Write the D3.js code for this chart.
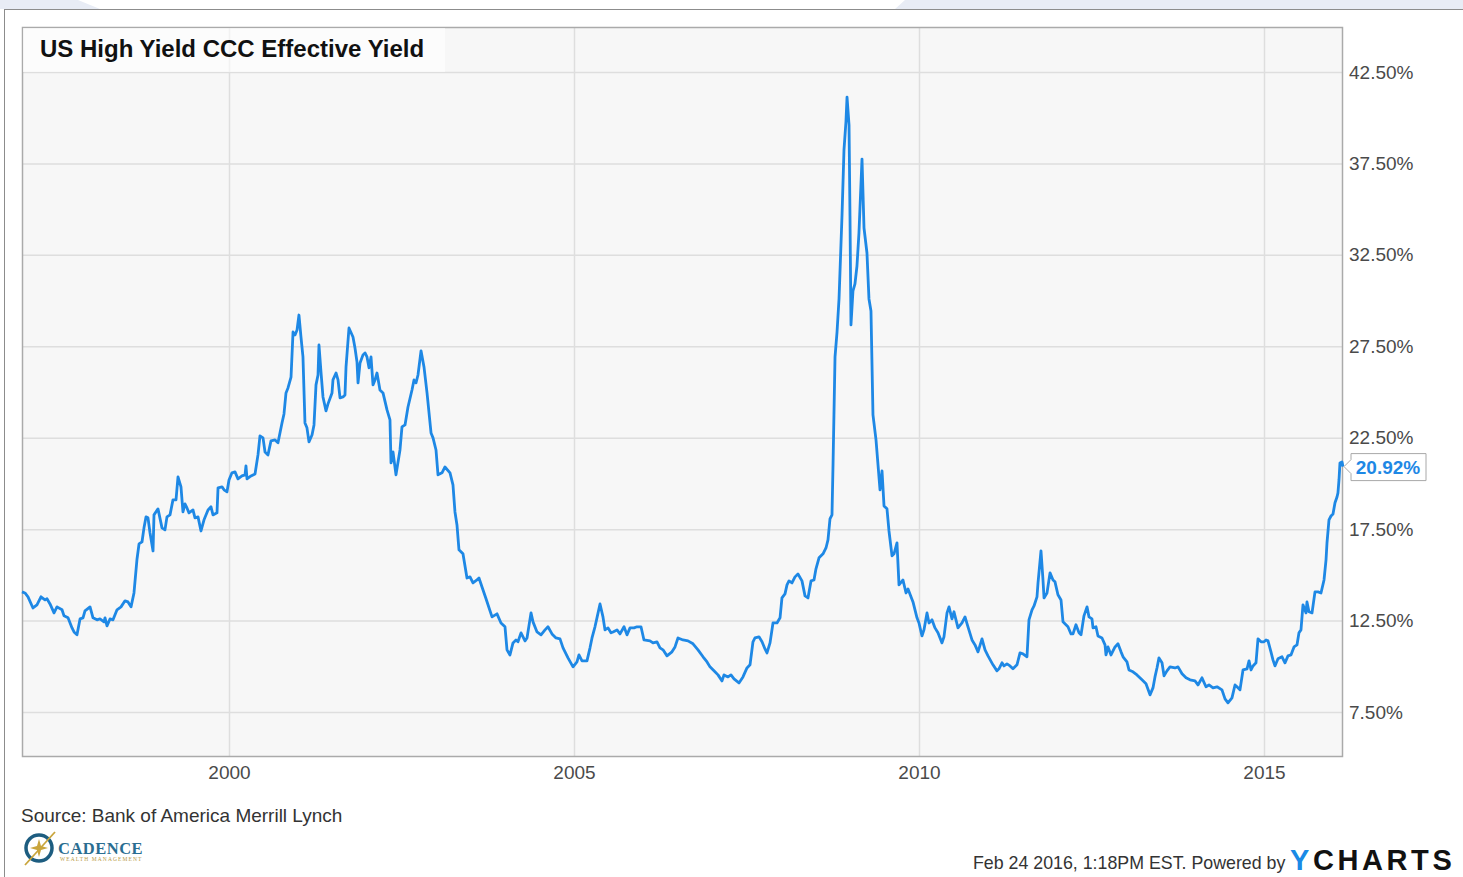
<!DOCTYPE html>
<html lang="en">

<head>
  <meta charset="UTF-8">
  <title>US High Yield CCC Effective Yield</title>
  <script src="https://cdnjs.cloudflare.com/ajax/libs/d3/7.8.5/d3.min.js"></script>
  <style>
    body {
      margin: 0;
      background: #fff;
      font-family: "Liberation Sans", Arial, sans-serif;
    }

    .grid line {
      stroke: #dedede;
      stroke-width: 1.5px;
    }

    .grid .domain {
      display: none;
    }

    .axis text {
      font-size: 19px;
      fill: #4a4a4a;
    }

    .axis .domain,
    .axis line {
      display: none;
    }
  </style>
</head>

<body>
  <div id="chart"></div>
  <script>
    // weekly-ish readings (decimal year, percent)
    const years = [
      1997.000, 1997.043, 1997.087, 1997.159, 1997.217, 1997.275, 1997.333, 1997.362, 1997.406, 1997.464,
      1997.507, 1997.580, 1997.609, 1997.667, 1997.725, 1997.754, 1997.797, 1997.841, 1997.884, 1997.913,
      1997.986, 1998.029, 1998.087, 1998.130, 1998.188, 1998.203, 1998.232, 1998.275, 1998.319, 1998.377,
      1998.435, 1998.493, 1998.536, 1998.580, 1998.623, 1998.667, 1998.696, 1998.739, 1998.768, 1998.797,
      1998.826, 1998.855, 1998.899, 1998.913, 1998.971, 1999.029, 1999.072, 1999.101, 1999.145, 1999.188,
      1999.232, 1999.261, 1999.304, 1999.333, 1999.362, 1999.391, 1999.420, 1999.478, 1999.507, 1999.551,
      1999.594, 1999.638, 1999.696, 1999.739, 1999.768, 1999.826, 1999.841, 1999.899, 1999.928, 1999.971,
      2000.000, 2000.043, 2000.087, 2000.130, 2000.188, 2000.232, 2000.246, 2000.261, 2000.319, 2000.377,
      2000.420, 2000.449, 2000.493, 2000.522, 2000.565, 2000.609, 2000.667, 2000.710, 2000.768, 2000.797,
      2000.826, 2000.855, 2000.899, 2000.928, 2000.957, 2000.986, 2001.014, 2001.043, 2001.072, 2001.101,
      2001.130, 2001.159, 2001.203, 2001.232, 2001.261, 2001.290, 2001.304, 2001.333, 2001.362, 2001.406,
      2001.435, 2001.493, 2001.507, 2001.551, 2001.580, 2001.609, 2001.652, 2001.681, 2001.696, 2001.739,
      2001.797, 2001.826, 2001.855, 2001.870, 2001.899, 2001.942, 2001.971, 2002.000, 2002.029, 2002.058,
      2002.087, 2002.116, 2002.145, 2002.188, 2002.232, 2002.290, 2002.333, 2002.348, 2002.377, 2002.420,
      2002.478, 2002.507, 2002.551, 2002.594, 2002.652, 2002.681, 2002.710, 2002.739, 2002.783, 2002.826,
      2002.870, 2002.928, 2002.957, 2003.000, 2003.029, 2003.087, 2003.130, 2003.203, 2003.246, 2003.275,
      2003.304, 2003.333, 2003.391, 2003.449, 2003.493, 2003.536, 2003.594, 2003.623, 2003.667, 2003.725,
      2003.812, 2003.884, 2003.942, 2004.000, 2004.029, 2004.072, 2004.116, 2004.159, 2004.188, 2004.232,
      2004.290, 2004.319, 2004.377, 2004.406, 2004.464, 2004.522, 2004.580, 2004.623, 2004.681, 2004.739,
      2004.797, 2004.841, 2004.913, 2004.986, 2005.043, 2005.072, 2005.116, 2005.188, 2005.232, 2005.261,
      2005.304, 2005.333, 2005.377, 2005.420, 2005.449, 2005.493, 2005.536, 2005.565, 2005.623, 2005.667,
      2005.725, 2005.768, 2005.812, 2005.870, 2005.913, 2005.971, 2006.014, 2006.101, 2006.145, 2006.203,
      2006.246, 2006.290, 2006.348, 2006.420, 2006.464, 2006.507, 2006.580, 2006.652, 2006.725, 2006.797,
      2006.870, 2006.928, 2006.971, 2007.043, 2007.087, 2007.145, 2007.174, 2007.232, 2007.275, 2007.319,
      2007.391, 2007.449, 2007.507, 2007.551, 2007.594, 2007.623, 2007.681, 2007.725, 2007.768, 2007.797,
      2007.841, 2007.884, 2007.942, 2007.986, 2008.014, 2008.058, 2008.087, 2008.116, 2008.159, 2008.203,
      2008.246, 2008.304, 2008.348, 2008.391, 2008.435, 2008.478, 2008.507, 2008.551, 2008.609, 2008.652,
      2008.681, 2008.710, 2008.739, 2008.754, 2008.783, 2008.812, 2008.841, 2008.884, 2008.913, 2008.942,
      2008.957, 2008.986, 2009.000, 2009.014, 2009.043, 2009.072, 2009.101, 2009.130, 2009.174, 2009.203,
      2009.246, 2009.275, 2009.304, 2009.333, 2009.377, 2009.406, 2009.435, 2009.464, 2009.493, 2009.536,
      2009.565, 2009.609, 2009.638, 2009.681, 2009.710, 2009.768, 2009.812, 2009.841, 2009.913, 2009.971,
      2010.000, 2010.043, 2010.072, 2010.116, 2010.145, 2010.188, 2010.232, 2010.275, 2010.333, 2010.362,
      2010.406, 2010.435, 2010.478, 2010.507, 2010.565, 2010.623, 2010.667, 2010.710, 2010.768, 2010.812,
      2010.855, 2010.913, 2010.957, 2011.000, 2011.072, 2011.130, 2011.159, 2011.203, 2011.232, 2011.275,
      2011.319, 2011.362, 2011.420, 2011.464, 2011.507, 2011.565, 2011.594, 2011.638, 2011.667, 2011.710,
      2011.725, 2011.768, 2011.797, 2011.812, 2011.855, 2011.899, 2011.942, 2011.971, 2012.014, 2012.058,
      2012.087, 2012.130, 2012.159, 2012.203, 2012.232, 2012.275, 2012.319, 2012.348, 2012.391, 2012.435,
      2012.464, 2012.507, 2012.522, 2012.565, 2012.594, 2012.652, 2012.696, 2012.710, 2012.739, 2012.783,
      2012.841, 2012.884, 2012.928, 2012.957, 2013.014, 2013.043, 2013.101, 2013.159, 2013.232, 2013.290,
      2013.348, 2013.391, 2013.420, 2013.449, 2013.478, 2013.522, 2013.551, 2013.594, 2013.638, 2013.710,
      2013.754, 2013.812, 2013.870, 2013.928, 2014.000, 2014.043, 2014.101, 2014.159, 2014.203, 2014.261,
      2014.319, 2014.391, 2014.435, 2014.478, 2014.536, 2014.580, 2014.609, 2014.652, 2014.696, 2014.754,
      2014.783, 2014.812, 2014.841, 2014.884, 2014.913, 2014.957, 2015.000, 2015.029, 2015.058, 2015.101,
      2015.130, 2015.159, 2015.203, 2015.261, 2015.304, 2015.348, 2015.391, 2015.435, 2015.478, 2015.507,
      2015.536, 2015.565, 2015.609, 2015.623, 2015.652, 2015.696, 2015.739, 2015.783, 2015.826, 2015.870,
      2015.899, 2015.913, 2015.942, 2015.971, 2016.000, 2016.029, 2016.058, 2016.072, 2016.087, 2016.101,
      2016.130, 2016.145
    ];

    const yields = [
      14.07, 14.01, 13.80, 13.19, 13.36, 13.80, 13.63, 13.69, 13.41, 12.92,
      13.25, 13.09, 12.76, 12.65, 12.10, 11.88, 11.72, 12.59, 12.65, 13.03,
      13.25, 12.65, 12.54, 12.59, 12.43, 12.65, 12.21, 12.59, 12.54, 13.09,
      13.25, 13.58, 13.52, 13.25, 14.01, 15.87, 16.69, 16.80, 17.57, 18.17,
      18.12, 17.30, 16.31, 18.28, 18.61, 17.57, 17.46, 18.17, 18.28, 19.10,
      19.10, 20.36, 19.81, 18.44, 18.88, 18.66, 18.39, 18.55, 18.12, 18.17,
      17.40, 18.01, 18.55, 18.72, 18.28, 18.39, 19.76, 19.81, 19.65, 19.54,
      20.19, 20.58, 20.63, 20.25, 20.41, 20.47, 20.96, 20.25, 20.41, 20.52,
      21.56, 22.60, 22.49, 21.72, 21.56, 22.33, 22.38, 22.22, 23.31, 23.80,
      24.95, 25.22, 25.82, 28.28, 28.12, 28.39, 29.21, 28.01, 26.92, 23.31,
      23.04, 22.27, 22.65, 23.20, 25.39, 25.93, 27.57, 26.10, 24.73, 23.97,
      24.35, 24.95, 25.66, 26.04, 25.66, 24.68, 24.73, 24.84, 26.37, 28.50,
      28.01, 27.41, 26.64, 25.50, 26.59, 27.03, 27.14, 26.92, 26.32, 26.92,
      25.39, 25.66, 26.04, 25.11, 24.95, 24.02, 23.47, 21.12, 21.72, 20.47,
      21.83, 23.09, 23.20, 24.18, 25.11, 25.66, 25.50, 25.93, 27.25, 26.37,
      24.95, 22.76, 22.49, 21.83, 20.47, 20.58, 20.90, 20.58, 19.92, 18.44,
      17.73, 16.37, 16.15, 14.83, 14.89, 14.56, 14.72, 14.83, 14.34, 13.69,
      12.70, 12.87, 12.37, 12.16, 10.90, 10.62, 11.28, 11.44, 11.34, 11.83,
      11.39, 11.55, 12.92, 12.43, 11.88, 11.72, 11.99, 12.16, 11.77, 11.55,
      11.50, 11.01, 10.46, 9.97, 10.24, 10.62, 10.30, 10.30, 11.01, 11.55,
      12.16, 12.65, 13.41, 12.70, 11.99, 12.10, 11.83, 11.88, 11.99, 11.77,
      12.16, 11.72, 12.10, 12.10, 12.16, 12.16, 11.44, 11.39, 11.28, 11.34,
      11.01, 10.90, 10.57, 10.79, 11.06, 11.55, 11.44, 11.39, 11.23, 10.90,
      10.52, 10.24, 9.97, 9.70, 9.53, 9.20, 9.53, 9.42, 9.53, 9.31,
      9.09, 9.42, 9.91, 10.08, 11.34, 11.55, 11.61, 11.34, 10.95, 10.73,
      11.28, 12.37, 12.37, 12.65, 13.74, 13.96, 14.45, 14.67, 14.56, 14.89,
      15.05, 14.67, 13.85, 13.74, 14.67, 14.72, 15.33, 15.93, 16.15, 16.47,
      16.91, 18.06, 18.28, 21.01, 26.92, 28.28, 30.09, 34.63, 38.24, 39.82,
      41.13, 39.60, 34.63, 28.67, 30.53, 30.91, 31.89, 33.70, 37.74, 33.97,
      32.60, 30.09, 29.43, 23.75, 22.38, 21.01, 19.65, 20.69, 18.77, 18.61,
      17.40, 16.04, 16.15, 16.75, 14.45, 14.72, 14.01, 14.23, 13.52, 12.65,
      12.37, 11.66, 11.99, 12.92, 12.37, 12.54, 12.10, 11.83, 11.28, 11.61,
      12.92, 13.25, 12.59, 12.98, 12.10, 12.37, 12.70, 12.16, 11.44, 11.17,
      10.79, 11.50, 10.90, 10.57, 10.08, 9.75, 9.86, 10.19, 10.02, 10.13,
      10.02, 9.86, 10.08, 10.73, 10.68, 10.52, 12.54, 13.09, 13.30, 13.80,
      14.56, 16.31, 14.72, 13.74, 14.01, 15.11, 14.72, 14.62, 13.91, 13.63,
      12.43, 12.27, 12.16, 11.77, 11.77, 12.27, 11.83, 11.72, 12.76, 13.25,
      12.70, 12.59, 12.10, 12.16, 11.66, 11.55, 11.17, 10.62, 11.06, 10.62,
      11.06, 11.23, 10.79, 10.52, 10.24, 9.80, 9.70, 9.53, 9.26, 9.04,
      8.44, 8.82, 9.42, 9.91, 10.46, 10.19, 9.48, 9.75, 9.97, 9.91,
      9.97, 9.59, 9.37, 9.26, 9.20, 8.98, 9.37, 8.88, 8.98, 8.82,
      8.88, 8.71, 8.22, 8.00, 8.27, 8.98, 8.88, 8.71, 9.80, 9.86,
      10.30, 9.80, 10.02, 10.19, 11.50, 11.34, 11.34, 11.44, 11.39, 10.79,
      10.35, 10.02, 10.41, 10.52, 10.19, 10.57, 10.62, 11.06, 11.17, 11.83,
      11.99, 13.36, 12.92, 13.52, 12.98, 12.92, 14.07, 14.07, 14.01, 14.72,
      15.82, 16.75, 18.01, 18.22, 18.33, 18.94, 19.26, 19.48, 20.19, 21.12,
      21.18, 20.92
    ];

    const yTicks = [7.5, 12.5, 17.5, 22.5, 27.5, 32.5, 37.5, 42.5];
    const xTicks = [2000, 2005, 2010, 2015];
    const lastLabel = "20.92%";

    const width = 1463;
    const height = 877;
    const plot = { left: 22, right: 1343, top: 27, bottom: 757 };

    const svg = d3.select("#chart")
      .append("svg")
      .attr("width", width)
      .attr("height", height);

    // light decoration strip behind the panel
    svg.append("path")
      .attr("d", "M0,0 L78,0 L100,9 L0,9 Z")
      .attr("fill", "#e8ecf5");
    svg.append("path")
      .attr("d", "M905,0 L1463,0 L1463,9 L895,9 Z")
      .attr("fill", "#e8ecf5");

    // outer panel
    svg.append("rect")
      .attr("x", 4.5)
      .attr("y", 9.5)
      .attr("width", width)
      .attr("height", height)
      .attr("fill", "#fff")
      .attr("stroke", "#8c8c8c");

    const x = d3.scaleLinear()
      .domain([1997, 2016.145])
      .range([plot.left, plot.right]);

    const y = d3.scaleLinear()
      .domain([5.04, 44.96])
      .range([plot.bottom, plot.top]);

    svg.append("rect")
      .attr("x", plot.left)
      .attr("y", plot.top)
      .attr("width", plot.right - plot.left)
      .attr("height", plot.bottom - plot.top)
      .attr("fill", "#f7f7f7");

    // grid
    svg.append("g")
      .attr("class", "grid")
      .attr("transform", `translate(${plot.left},0)`)
      .call(d3.axisLeft(y).tickValues(yTicks).tickSize(-(plot.right - plot.left)).tickFormat(""));

    svg.append("g")
      .attr("class", "grid")
      .attr("transform", `translate(0,${plot.bottom})`)
      .call(d3.axisBottom(x).tickValues(xTicks).tickSize(-(plot.bottom - plot.top)).tickFormat(""));

    // plot frame
    svg.append("rect")
      .attr("x", plot.left + 0.5)
      .attr("y", plot.top + 0.5)
      .attr("width", plot.right - plot.left - 1)
      .attr("height", plot.bottom - plot.top - 1)
      .attr("fill", "none")
      .attr("stroke", "#aaaaaa")
      .attr("stroke-width", 1.5);

    // axes labels
    svg.append("g")
      .attr("class", "axis")
      .attr("transform", `translate(${plot.right},0)`)
      .call(d3.axisRight(y).tickValues(yTicks).tickSize(0).tickPadding(6)
        .tickFormat(d => d.toFixed(2) + "%"));

    svg.append("g")
      .attr("class", "axis")
      .attr("transform", `translate(0,${plot.bottom})`)
      .call(d3.axisBottom(x).tickValues(xTicks).tickSize(0).tickPadding(9)
        .tickFormat(d3.format("d")));

    // series
    const data = years.map((t, i) => ({ t, v: yields[i] }));

    svg.append("path")
      .datum(data)
      .attr("fill", "none")
      .attr("stroke", "#1e88e5")
      .attr("stroke-width", 2.8)
      .attr("stroke-linejoin", "round")
      .attr("d", d3.line().x(d => x(d.t)).y(d => y(d.v)));

    // title box
    svg.append("rect")
      .attr("x", plot.left + 1)
      .attr("y", plot.top + 1)
      .attr("width", 422)
      .attr("height", 44)
      .attr("fill", "#fff")
      .attr("opacity", 0.6);

    svg.append("text")
      .attr("x", 40)
      .attr("y", 57)
      .attr("font-size", 24)
      .attr("font-weight", "bold")
      .attr("fill", "#111")
      .text("US High Yield CCC Effective Yield");

    // last value flag
    const last = data[data.length - 1];
    const lx = x(last.t), ly = y(last.v);
    svg.append("path")
      .attr("d", `M${lx + 1},${ly} L${lx + 8},${ly - 7} L${lx + 8},${ly - 13} L${lx + 83},${ly - 13}
        L${lx + 83},${ly + 14} L${lx + 8},${ly + 14} L${lx + 8},${ly + 7} Z`)
      .attr("fill", "#fff")
      .attr("stroke", "#a8a8a8");

    svg.append("text")
      .attr("x", lx + 45)
      .attr("y", ly + 7)
      .attr("text-anchor", "middle")
      .attr("font-size", 19)
      .attr("font-weight", "bold")
      .attr("fill", "#1e88e5")
      .text(lastLabel);

    // footer
    svg.append("text")
      .attr("x", 21)
      .attr("y", 822)
      .attr("font-size", 19)
      .attr("fill", "#333")
      .text("Source: Bank of America Merrill Lynch");

    svg.append("text")
      .attr("x", 973)
      .attr("y", 869)
      .attr("font-size", 17.8)
      .attr("fill", "#333")
      .text("Feb 24 2016, 1:18PM EST. Powered by");

    const yc = svg.append("text")
      .attr("x", 1290)
      .attr("y", 870)
      .attr("font-size", 29)
      .attr("font-weight", "bold")
      .attr("letter-spacing", 3.6);
    yc.append("tspan").attr("fill", "#1a8ae6").text("Y");
    yc.append("tspan").attr("fill", "#111").text("CHARTS");

    // Cadence logo
    const logo = svg.append("g").attr("transform", "translate(39,848)");
    logo.append("circle")
      .attr("r", 13)
      .attr("fill", "none")
      .attr("stroke", "#1d5d80")
      .attr("stroke-width", 3.5);
    logo.append("path")
      .attr("d", "M0,-9 L2,-2 L9,0 L2,2 L0,9 L-2,2 L-9,0 L-2,-2 Z")
      .attr("fill", "#c9a53c");
    logo.append("line")
      .attr("x1", -14).attr("y1", 17)
      .attr("x2", 16).attr("y2", -16)
      .attr("stroke", "#c9a53c")
      .attr("stroke-width", 1.8);
    svg.append("text")
      .attr("x", 58)
      .attr("y", 854)
      .attr("font-family", "'Liberation Serif', 'DejaVu Serif', serif")
      .attr("font-size", 16.5)
      .attr("font-weight", "bold")
      .attr("letter-spacing", 0.5)
      .attr("fill", "#2a6d91")
      .text("CADENCE");
    svg.append("text")
      .attr("x", 60)
      .attr("y", 861)
      .attr("font-family", "'Liberation Serif', 'DejaVu Serif', serif")
      .attr("font-size", 5.5)
      .attr("letter-spacing", 1.1)
      .attr("fill", "#b89a45")
      .text("WEALTH MANAGEMENT");
  </script>
</body>

</html>
